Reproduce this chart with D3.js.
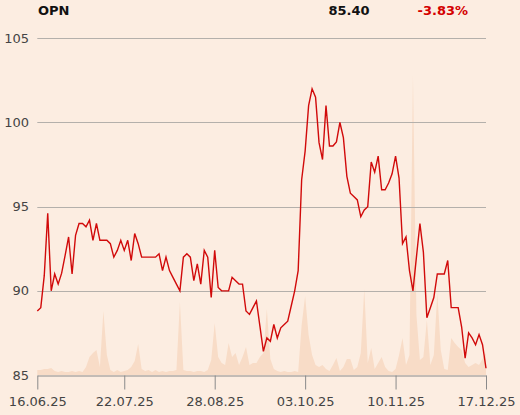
<!DOCTYPE html>
<html><head><meta charset="utf-8">
<script src="https://cdn.jsdelivr.net/npm/d3@7"></script>
<style>
html,body{margin:0;padding:0;background:#fcede1;}
svg{display:block;}
</style></head><body>
<svg id="c" width="520" height="415"></svg>
<script>
const symbol = "OPN";
const lastPrice = "85.40";
const changePct = "-3.83%";

const prices = [
 88.8, 89.0, 90.9, 94.6, 90.0, 91.0, 90.4, 91.05, 92.1, 93.2,
 91.0, 93.3, 94.0, 94.0, 93.8, 94.2, 93.0, 94.0, 93.0, 93.0,
 93.0, 92.8, 92.0, 92.4, 93.0, 92.4, 93.0, 91.8, 93.4, 92.8,
 92.0, 92.0, 92.0, 92.0, 92.0, 92.2, 91.2, 92.0, 91.2, 90.8,
 90.4, 90.0, 92.0, 92.2, 92.0, 90.6, 91.6, 90.4, 92.4, 92.0,
 89.6, 92.4, 90.2, 90.0, 90.0, 90.0, 90.8, 90.6, 90.4, 90.4,
 88.8, 88.6, 89.0, 89.4, 87.9, 86.4, 87.2, 87.0, 88.0, 87.2,
 87.8, 88.0, 88.2, 89.1, 90.0, 91.2, 96.6, 98.3, 101.0, 102.0,
 101.5, 98.8, 97.8, 101.0, 98.6, 98.6, 98.85, 100.0, 99.1, 96.8,
 95.8, 95.6, 95.4, 94.4, 94.8, 95.0, 97.65, 97.05, 98.0, 96.0,
 96.0, 96.4, 96.95, 98.0, 96.7, 92.8, 93.2, 91.2, 90.0, 92.0,
 94.0, 92.3, 88.4, 89.0, 89.6, 91.0, 91.0, 91.0, 91.8, 89.0,
 89.0, 89.0, 87.85, 86.0, 87.5, 87.2, 86.8, 87.4, 86.8, 85.4
];

const volumes = [
 5, 5, 6, 6, 7, 4, 3, 4, 3, 3,
 4, 3, 4, 3, 8, 18, 22, 25, 8, 64,
 20, 5, 3, 5, 3, 4, 5, 8, 14, 31,
 6, 4, 5, 3, 5, 3, 4, 3, 4, 4,
 5, 73, 5, 4, 4, 3, 4, 4, 3, 5,
 15, 52, 18, 12, 10, 32, 18, 22, 10, 18,
 28, 10, 12, 12, 18, 22, 66, 16, 6, 4,
 3, 4, 3, 3, 4, 3, 50, 79, 40, 20,
 10, 8, 10, 6, 4, 10, 17, 4, 8, 16,
 16, 5, 8, 22, 86, 12, 27, 6, 12, 18,
 8, 4, 3, 6, 20, 37, 10, 20, 300, 60,
 15, 18, 55, 10, 20, 82, 25, 6, 5, 37,
 32, 28, 25, 12, 8, 10, 12, 10, 16, 22
];

const yTicks = [85, 90, 95, 100, 105];
const xTickIndex = [0, 25, 51, 77, 103, 129];
const xTickLabels = ["16.06.25", "22.07.25", "28.08.25", "03.10.25", "10.11.25", "17.12.25"];

const svg = d3.select("#c");
const x = d3.scaleLinear().domain([0, prices.length - 1]).range([37.3, 486]);
const y = d3.scaleLinear().domain([85, 105]).range([375, 38.3]);
const yv = d3.scaleLinear().domain([0, 337]).range([375, 38.3]);

svg.append("rect").attr("width", 520).attr("height", 415).attr("fill", "#fcede1");

// volume area
svg.append("path")
  .datum(volumes)
  .attr("fill", "#f8dcc7")
  .attr("d", d3.area().x((d, i) => x(i)).y0(yv(0)).y1(d => yv(d)));

// gridlines
svg.append("g").selectAll("line").data(yTicks.filter(t => t !== 85)).join("line")
  .attr("x1", 37.3).attr("x2", 486)
  .attr("y1", d => Math.round(y(d)) + 0.5).attr("y2", d => Math.round(y(d)) + 0.5)
  .attr("stroke", "#b4b0ab").attr("stroke-width", 1);

// y labels
svg.append("g").selectAll("text").data(yTicks).join("text")
  .attr("x", 29).attr("y", d => y(d)).attr("dy", "0.35em")
  .attr("text-anchor", "end")
  .attr("font-family", "DejaVu Sans").attr("font-size", 13).attr("fill", "#444")
  .text(d => d);

// x axis
const xAxis = d3.axisBottom(x).tickValues(xTickIndex)
  .tickFormat((d, i) => xTickLabels[i]).tickSize(14).tickSizeOuter(0);
const gx = svg.append("g").attr("transform", "translate(0,375.5)").call(xAxis);
gx.select(".domain").attr("stroke", "#8a8a8a");
gx.selectAll(".tick line").attr("stroke", "#8a8a8a");
gx.selectAll(".tick text").attr("font-family", "DejaVu Sans").attr("font-size", 13)
  .attr("fill", "#444").attr("dy", "1.0em");

// price line
svg.append("path")
  .datum(prices)
  .attr("fill", "none")
  .attr("stroke", "#d10a0a")
  .attr("stroke-width", 1.4)
  .attr("stroke-linejoin", "miter")
  .attr("d", d3.line().x((d, i) => x(i)).y(d => y(d)));

// header
const hf = "DejaVu Sans";
svg.append("text").attr("x", 38).attr("y", 15).attr("font-family", hf)
  .attr("font-weight", "bold").attr("font-size", 13).attr("fill", "#111").text(symbol);
svg.append("text").attr("x", 369.5).attr("y", 15).attr("text-anchor", "end").attr("font-family", hf)
  .attr("font-weight", "bold").attr("font-size", 13).attr("fill", "#111").text(lastPrice);
svg.append("text").attr("x", 468).attr("y", 15).attr("text-anchor", "end").attr("font-family", hf)
  .attr("font-weight", "bold").attr("font-size", 13).attr("fill", "#d40000").text(changePct);
</script>
</body></html>
